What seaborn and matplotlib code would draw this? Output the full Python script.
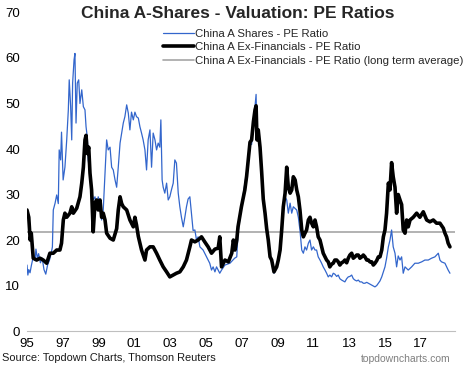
import numpy as np
import pandas as pd
import matplotlib
matplotlib.use("Agg")
import matplotlib.pyplot as plt
import seaborn as sns

# China A Shares - PE Ratio (decimal year, value)
shares_year = [
    1995.00, 1995.05, 1995.10, 1995.17, 1995.25, 1995.35, 1995.45, 1995.50, 1995.58, 1995.65,
    1995.75, 1995.85, 1995.95, 1996.05, 1996.15, 1996.25, 1996.35, 1996.42, 1996.47, 1996.57,
    1996.66, 1996.75, 1996.80, 1996.88, 1996.93, 1997.02, 1997.12, 1997.22, 1997.31, 1997.36,
    1997.44, 1997.50, 1997.55, 1997.63, 1997.68, 1997.74, 1997.81, 1997.89, 1997.96, 1998.06,
    1998.15, 1998.24, 1998.30, 1998.37, 1998.42, 1998.52, 1998.61, 1998.70, 1998.80, 1998.89,
    1998.98, 1999.08, 1999.17, 1999.26, 1999.36, 1999.45, 1999.54, 1999.64, 1999.73, 1999.82,
    1999.92, 2000.01, 2000.10, 2000.20, 2000.29, 2000.38, 2000.47, 2000.57, 2000.66, 2000.75,
    2000.84, 2000.94, 2001.03, 2001.12, 2001.22, 2001.31, 2001.40, 2001.49, 2001.59, 2001.68,
    2001.77, 2001.87, 2001.96, 2002.05, 2002.15, 2002.24, 2002.33, 2002.42, 2002.48, 2002.55,
    2002.61, 2002.70, 2002.80, 2002.89, 2002.98, 2003.07, 2003.17, 2003.26, 2003.35, 2003.45,
    2003.54, 2003.63, 2003.73, 2003.82, 2003.91, 2004.00, 2004.10, 2004.19, 2004.28, 2004.38,
    2004.47, 2004.56, 2004.66, 2004.84, 2005.03, 2005.21, 2005.31, 2005.40, 2005.50, 2005.59,
    2005.77, 2005.87, 2006.06, 2006.34, 2006.60, 2006.72, 2006.79, 2006.98, 2007.08, 2007.27,
    2007.37, 2007.46, 2007.55, 2007.65, 2007.74, 2007.80, 2007.85, 2007.92, 2008.02, 2008.11,
    2008.20, 2008.30, 2008.39, 2008.48, 2008.58, 2008.67, 2008.80, 2008.95, 2009.04, 2009.14,
    2009.23, 2009.32, 2009.42, 2009.51, 2009.60, 2009.70, 2009.79, 2009.88, 2010.07, 2010.16,
    2010.25, 2010.35, 2010.44, 2010.53, 2010.62, 2010.72, 2010.81, 2010.90, 2011.00, 2011.09,
    2011.18, 2011.27, 2011.37, 2011.46, 2011.55, 2011.65, 2011.74, 2011.83, 2011.92, 2012.02,
    2012.11, 2012.20, 2012.30, 2012.39, 2012.48, 2012.58, 2012.67, 2012.76, 2012.86, 2012.95,
    2013.04, 2013.14, 2013.23, 2013.32, 2013.42, 2013.51, 2013.60, 2013.70, 2013.79, 2013.88,
    2013.98, 2014.07, 2014.16, 2014.26, 2014.35, 2014.44, 2014.54, 2014.63, 2014.72, 2014.82,
    2014.91, 2015.00, 2015.09, 2015.19, 2015.28, 2015.37, 2015.46, 2015.56, 2015.65, 2015.74,
    2015.84, 2015.93, 2016.02, 2016.12, 2016.30, 2016.49, 2016.67, 2016.86, 2017.05, 2017.23,
    2017.42, 2017.60, 2017.79, 2017.98, 2018.07, 2018.16, 2018.35, 2018.53, 2018.63,
]
shares_pe = [
    14.5, 12.3, 13.5, 12.8, 14.5, 16.3, 15.5, 18.0, 16.0, 17.0,
    15.0, 16.0, 13.5, 12.5, 14.5, 15.5, 17.0, 18.5, 26.6, 28.1,
    29.9, 28.0, 39.8, 37.6, 43.7, 33.2, 36.0, 42.0, 48.6, 55.2,
    49.3, 42.0, 54.5, 59.6, 61.0, 45.7, 54.5, 55.2, 50.0, 53.0,
    49.3, 48.6, 44.9, 42.6, 37.6, 34.7, 31.0, 28.8, 29.5, 27.3,
    29.5, 28.1, 24.4, 26.6, 34.7, 42.0, 39.8, 40.4, 36.0, 35.4,
    33.2, 31.6, 36.0, 41.3, 43.5, 45.7, 47.1, 49.7, 47.9, 44.2,
    48.1, 46.4, 48.1, 47.1, 46.8, 44.9, 43.5, 42.0, 39.8, 35.4,
    42.0, 44.2, 36.0, 43.5, 42.0, 39.8, 41.3, 40.4, 46.4, 33.2,
    31.6, 30.3, 32.5, 28.8, 29.5, 31.0, 32.5, 37.6, 36.9, 30.3,
    27.3, 25.0, 22.9, 25.0, 27.3, 29.0, 29.5, 25.9, 22.1, 22.2,
    20.0, 20.7, 18.5, 17.8, 16.3, 14.9, 13.4, 14.1, 13.0, 14.1,
    12.7, 13.4, 14.5, 14.9, 16.0, 16.3, 21.5, 27.3, 30.0, 35.0,
    37.5, 41.0, 41.0, 45.5, 49.3, 52.0, 42.0, 44.0, 41.0, 34.5,
    29.5, 25.5, 22.5, 20.0, 16.3, 15.6, 12.7, 14.1, 15.6, 17.8,
    22.2, 27.3, 29.5, 28.8, 25.9, 28.1, 25.9, 27.3, 26.6, 25.0,
    22.2, 17.8, 17.1, 18.5, 17.8, 19.3, 20.0, 17.8, 18.5, 17.8,
    17.8, 16.3, 15.6, 14.9, 14.1, 13.4, 12.7, 11.9, 12.3, 11.9,
    12.7, 12.5, 12.0, 12.3, 11.5, 11.2, 11.0, 10.8, 11.5, 11.9,
    12.0, 12.3, 11.5, 11.2, 11.0, 11.2, 10.8, 10.8, 10.5, 10.5,
    10.7, 10.5, 10.3, 10.1, 9.9, 9.7, 10.0, 10.5, 11.0, 11.9,
    13.0, 14.1, 16.0, 18.5, 20.0, 22.2, 18.5, 17.1, 14.1, 16.5,
    15.6, 16.3, 12.7, 14.1, 13.4, 14.1, 14.9, 14.9, 15.2, 15.6,
    15.6, 16.0, 16.3, 17.1, 15.6, 15.2, 14.9, 13.4, 12.7,
]

# China A Ex-Financials - PE Ratio (decimal year, value)
exfin_year = [
    1995.00, 1995.10, 1995.18, 1995.24, 1995.35, 1995.54, 1995.73, 1995.91, 1996.10, 1996.19,
    1996.28, 1996.47, 1996.66, 1996.84, 1996.93, 1997.03, 1997.12, 1997.22, 1997.40, 1997.50,
    1997.59, 1997.78, 1997.96, 1998.06, 1998.15, 1998.24, 1998.30, 1998.37, 1998.45, 1998.52,
    1998.61, 1998.70, 1998.80, 1998.89, 1998.98, 1999.08, 1999.17, 1999.26, 1999.36, 1999.45,
    1999.64, 1999.82, 2000.01, 2000.10, 2000.20, 2000.29, 2000.38, 2000.57, 2000.75, 2000.94,
    2001.03, 2001.12, 2001.22, 2001.40, 2001.59, 2001.68, 2001.87, 2002.05, 2002.24, 2002.42,
    2002.61, 2002.80, 2002.98, 2003.17, 2003.35, 2003.54, 2003.73, 2003.91, 2004.10, 2004.19,
    2004.38, 2004.56, 2004.75, 2004.93, 2005.12, 2005.31, 2005.50, 2005.68, 2005.77, 2005.87,
    2006.06, 2006.25, 2006.44, 2006.53, 2006.62, 2006.72, 2006.79, 2006.98, 2007.17, 2007.27,
    2007.37, 2007.46, 2007.55, 2007.65, 2007.74, 2007.80, 2007.85, 2007.92, 2008.02, 2008.11,
    2008.20, 2008.30, 2008.39, 2008.48, 2008.58, 2008.67, 2008.80, 2008.95, 2009.04, 2009.14,
    2009.23, 2009.32, 2009.42, 2009.51, 2009.60, 2009.70, 2009.79, 2009.88, 2009.98, 2010.07,
    2010.16, 2010.25, 2010.35, 2010.44, 2010.53, 2010.62, 2010.72, 2010.81, 2010.90, 2011.00,
    2011.09, 2011.18, 2011.27, 2011.37, 2011.46, 2011.55, 2011.65, 2011.74, 2011.83, 2011.92,
    2012.02, 2012.11, 2012.20, 2012.30, 2012.39, 2012.48, 2012.58, 2012.67, 2012.76, 2012.86,
    2012.95, 2013.04, 2013.14, 2013.23, 2013.32, 2013.42, 2013.51, 2013.60, 2013.70, 2013.79,
    2013.88, 2013.98, 2014.07, 2014.16, 2014.26, 2014.35, 2014.44, 2014.54, 2014.63, 2014.72,
    2014.82, 2014.91, 2015.00, 2015.09, 2015.19, 2015.28, 2015.37, 2015.46, 2015.56, 2015.65,
    2015.74, 2015.84, 2015.93, 2016.02, 2016.12, 2016.21, 2016.30, 2016.40, 2016.58, 2016.77,
    2016.95, 2017.14, 2017.33, 2017.51, 2017.70, 2017.88, 2018.07, 2018.26, 2018.35, 2018.44,
    2018.53, 2018.63,
]
exfin_pe = [
    26.6, 25.0, 20.0, 21.5, 16.0, 15.6, 16.0, 15.6, 14.9, 16.0,
    17.1, 17.1, 17.8, 17.8, 19.3, 24.4, 25.9, 25.0, 25.9, 27.3,
    25.9, 27.0, 29.5, 32.5, 36.0, 42.0, 43.0, 39.0, 40.4, 34.7,
    31.0, 21.8, 28.1, 28.8, 26.6, 28.8, 25.0, 25.9, 24.4, 21.5,
    20.4, 20.0, 22.5, 26.6, 29.5, 28.0, 27.3, 26.6, 24.4, 22.9,
    25.0, 23.3, 20.8, 17.8, 15.6, 17.8, 18.5, 18.5, 17.1, 15.6,
    14.1, 13.0, 11.9, 12.3, 12.7, 13.0, 14.1, 15.6, 18.5, 20.0,
    19.6, 20.0, 20.7, 19.6, 18.5, 17.1, 18.0, 18.2, 20.7, 14.1,
    15.6, 15.2, 17.1, 20.0, 17.8, 20.0, 22.9, 27.3, 31.0, 34.0,
    38.0, 41.5, 42.0, 46.0, 48.6, 49.5, 42.0, 44.2, 40.4, 35.0,
    29.0, 25.9, 22.5, 20.0, 16.3, 15.6, 13.0, 14.1, 15.6, 17.8,
    22.2, 27.3, 30.3, 36.0, 31.6, 30.3, 31.0, 33.9, 33.2, 31.0,
    29.5, 26.6, 22.2, 20.7, 21.5, 22.2, 24.4, 25.0, 23.7, 22.9,
    24.4, 22.9, 20.7, 20.0, 18.5, 17.1, 16.3, 15.6, 15.2, 14.1,
    14.7, 14.9, 15.6, 15.6, 15.2, 14.5, 15.0, 15.2, 15.6, 15.0,
    16.0, 16.7, 17.1, 16.0, 16.3, 16.7, 16.7, 16.0, 16.3, 16.7,
    16.3, 15.6, 15.6, 15.2, 15.2, 14.5, 14.9, 15.5, 16.3, 16.3,
    17.8, 20.7, 22.2, 25.9, 32.5, 31.0, 37.0, 33.9, 31.6, 25.9,
    30.0, 28.8, 27.8, 22.2, 21.5, 24.4, 22.9, 24.4, 25.0, 25.9,
    25.0, 26.2, 24.4, 24.0, 24.4, 23.7, 23.7, 22.6, 21.5, 20.7,
    19.3, 18.5,
]

long_term_avg = 21.8

year_ticks = list(range(1995, 2018, 2))
year_labels = [f"{y % 100:02d}" for y in year_ticks]
y_ticks = [0, 10, 20, 30, 40, 50, 60, 70]

sns.set_style("white")
plt.rcParams["font.family"] = ["Liberation Sans", "DejaVu Sans"]

df_shares = pd.DataFrame({"year": shares_year, "pe": shares_pe})
df_exfin = pd.DataFrame({"year": exfin_year, "pe": exfin_pe})

fig = plt.figure(figsize=(4.70, 3.67), dpi=100)
ax = fig.add_axes([0.0574, 0.098, 0.9106, 0.868])

sns.lineplot(data=df_shares, x="year", y="pe", ax=ax, color="#3366CC", linewidth=0.9,
             estimator=None, label="China A Shares - PE Ratio")
sns.lineplot(data=df_exfin, x="year", y="pe", ax=ax, color="black", linewidth=2.6,
             estimator=None, label="China A Ex-Financials - PE Ratio")
ax.axhline(long_term_avg, color="#a6a6a6", linewidth=1.2,
           label="China A Ex-Financials - PE Ratio (long term average)", zorder=1)

ax.set_xlim(1995.0, 2018.91)
ax.set_ylim(0, 70)
ax.set_xticks(year_ticks)
ax.set_xticklabels(year_labels)
ax.set_yticks(y_ticks)
ax.set_xlabel("")
ax.set_ylabel("")

for side in ["left", "right", "top"]:
    ax.spines[side].set_visible(False)
ax.spines["bottom"].set_color("#bfbfbf")
ax.spines["bottom"].set_linewidth(0.8)
ax.tick_params(axis="x", direction="out", length=3, width=0.8, color="#bfbfbf",
               labelsize=9.5, pad=2, labelcolor="black")
ax.tick_params(axis="y", length=0, labelsize=9.5, pad=5, labelcolor="black")

ax.legend(loc="upper left", bbox_to_anchor=(163 / 470, 1 - 29 / 367),
          bbox_transform=fig.transFigure, frameon=False, fontsize=8.2,
          handlelength=2.7, handletextpad=0.15, labelspacing=0.3, borderpad=0,
          borderaxespad=0)

fig.text(0.505, 1 - 13 / 367, "China A-Shares - Valuation: PE Ratios", ha="center", va="center",
         fontsize=12.5, fontweight="bold")
fig.text(2 / 470, 1 - 358 / 367, "Source: Topdown Charts, Thomson Reuters", ha="left",
         va="center", fontsize=7.9, color="#1a1a1a")
fig.text(451 / 470, 1 - 359 / 367, "topdowncharts.com", ha="right", va="center",
         fontsize=7.5, color="#7f7f7f")

fig.savefig("out.png", dpi=100)
